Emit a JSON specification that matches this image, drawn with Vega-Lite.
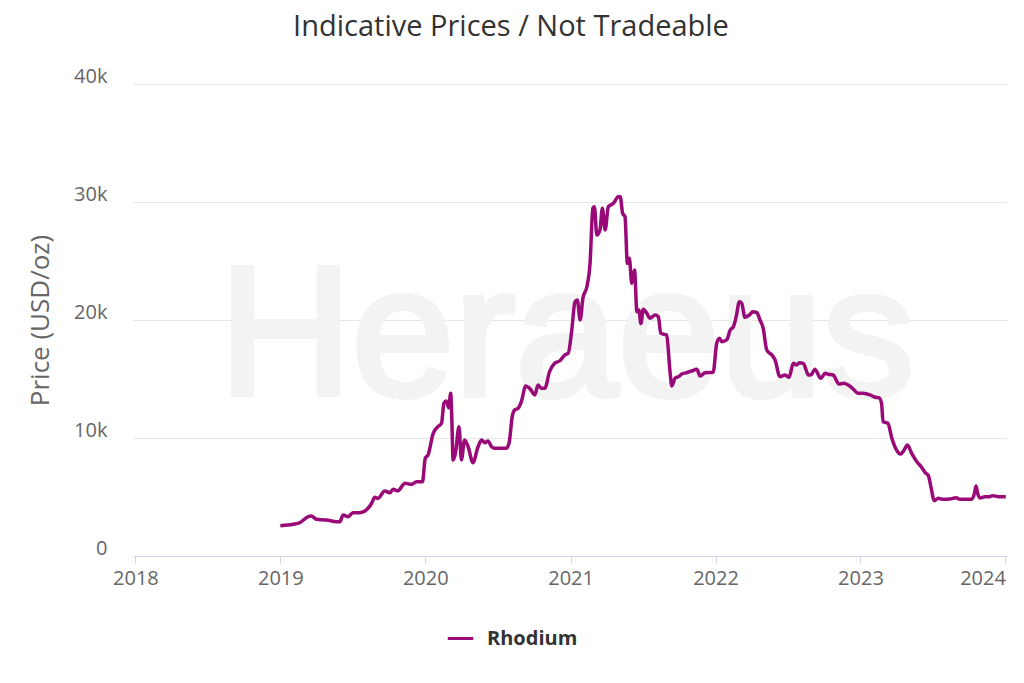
{
  "$schema": "https://vega.github.io/schema/vega-lite/v6.json",
  "width": 874,
  "height": 472,
  "autosize": {"type": "none"},
  "padding": {"left": 133, "top": 84, "right": 17, "bottom": 127},
  "background": "#ffffff",
  "title": {
    "text": "Indicative Prices / Not Tradeable",
    "font": "Open Sans",
    "fontSize": 29,
    "fontWeight": "normal",
    "color": "#333333",
    "anchor": "middle",
    "frame": "group",
    "baseline": "alphabetic",
    "offset": 31,
    "dx": -59,
    "dy": 30
  },
  "config": {
    "view": {"stroke": null},
    "font": "Open Sans"
  },
  "data": {
    "values": [
      {"date": "2019-01-01", "price": 2570},
      {"date": "2019-02-02", "price": 2690},
      {"date": "2019-02-19", "price": 2820},
      {"date": "2019-03-12", "price": 3330},
      {"date": "2019-03-20", "price": 3390},
      {"date": "2019-04-02", "price": 3110},
      {"date": "2019-04-27", "price": 3050},
      {"date": "2019-05-23", "price": 2910},
      {"date": "2019-05-31", "price": 2910},
      {"date": "2019-06-08", "price": 3470},
      {"date": "2019-06-21", "price": 3330},
      {"date": "2019-07-03", "price": 3670},
      {"date": "2019-07-20", "price": 3670},
      {"date": "2019-08-10", "price": 4040},
      {"date": "2019-08-19", "price": 4470},
      {"date": "2019-08-27", "price": 4970},
      {"date": "2019-09-04", "price": 4890},
      {"date": "2019-09-21", "price": 5510},
      {"date": "2019-10-04", "price": 5360},
      {"date": "2019-10-12", "price": 5650},
      {"date": "2019-10-24", "price": 5530},
      {"date": "2019-11-11", "price": 6160},
      {"date": "2019-11-27", "price": 6070},
      {"date": "2019-12-10", "price": 6300},
      {"date": "2019-12-25", "price": 6300},
      {"date": "2020-01-01", "price": 8280},
      {"date": "2020-01-08", "price": 8560},
      {"date": "2020-01-21", "price": 10400},
      {"date": "2020-02-02", "price": 10960},
      {"date": "2020-02-11", "price": 11250},
      {"date": "2020-02-17", "price": 12940},
      {"date": "2020-02-23", "price": 13140},
      {"date": "2020-02-29", "price": 12570},
      {"date": "2020-03-05", "price": 13790},
      {"date": "2020-03-08", "price": 11530},
      {"date": "2020-03-11", "price": 8140},
      {"date": "2020-03-17", "price": 8700},
      {"date": "2020-03-26", "price": 10960},
      {"date": "2020-04-01", "price": 8140},
      {"date": "2020-04-09", "price": 9830},
      {"date": "2020-04-18", "price": 9260},
      {"date": "2020-04-30", "price": 7910},
      {"date": "2020-05-13", "price": 9260},
      {"date": "2020-05-22", "price": 9830},
      {"date": "2020-05-30", "price": 9600},
      {"date": "2020-06-07", "price": 9750},
      {"date": "2020-06-16", "price": 9260},
      {"date": "2020-06-24", "price": 9130},
      {"date": "2020-07-23", "price": 9130},
      {"date": "2020-07-30", "price": 9550},
      {"date": "2020-08-07", "price": 11810},
      {"date": "2020-08-13", "price": 12370},
      {"date": "2020-08-22", "price": 12520},
      {"date": "2020-08-30", "price": 13080},
      {"date": "2020-09-10", "price": 14410},
      {"date": "2020-09-20", "price": 14210},
      {"date": "2020-10-03", "price": 13650},
      {"date": "2020-10-11", "price": 14490},
      {"date": "2020-10-19", "price": 14210},
      {"date": "2020-10-28", "price": 14210},
      {"date": "2020-11-09", "price": 15620},
      {"date": "2020-11-22", "price": 16330},
      {"date": "2020-12-05", "price": 16550},
      {"date": "2020-12-17", "price": 17030},
      {"date": "2020-12-26", "price": 17180},
      {"date": "2021-01-04", "price": 19150},
      {"date": "2021-01-12", "price": 21550},
      {"date": "2021-01-18", "price": 21700},
      {"date": "2021-01-25", "price": 20000},
      {"date": "2021-02-01", "price": 21840},
      {"date": "2021-02-11", "price": 22820},
      {"date": "2021-02-19", "price": 24800},
      {"date": "2021-02-26", "price": 29470},
      {"date": "2021-03-02", "price": 29600},
      {"date": "2021-03-08", "price": 27200},
      {"date": "2021-03-16", "price": 27630},
      {"date": "2021-03-22", "price": 29470},
      {"date": "2021-03-29", "price": 27630},
      {"date": "2021-04-06", "price": 29600},
      {"date": "2021-04-12", "price": 29750},
      {"date": "2021-04-19", "price": 29890},
      {"date": "2021-05-01", "price": 30450},
      {"date": "2021-05-06", "price": 30450},
      {"date": "2021-05-12", "price": 29040},
      {"date": "2021-05-18", "price": 28760},
      {"date": "2021-05-24", "price": 24800},
      {"date": "2021-05-29", "price": 25230},
      {"date": "2021-06-04", "price": 23110},
      {"date": "2021-06-11", "price": 24240},
      {"date": "2021-06-17", "price": 20700},
      {"date": "2021-06-22", "price": 20850},
      {"date": "2021-06-27", "price": 19700},
      {"date": "2021-07-03", "price": 20910},
      {"date": "2021-07-12", "price": 20570},
      {"date": "2021-07-20", "price": 20150},
      {"date": "2021-08-02", "price": 20420},
      {"date": "2021-08-10", "price": 20280},
      {"date": "2021-08-16", "price": 18870},
      {"date": "2021-08-31", "price": 18730},
      {"date": "2021-09-08", "price": 15760},
      {"date": "2021-09-13", "price": 14410},
      {"date": "2021-09-21", "price": 15060},
      {"date": "2021-09-30", "price": 15200},
      {"date": "2021-10-08", "price": 15420},
      {"date": "2021-10-20", "price": 15530},
      {"date": "2021-11-02", "price": 15680},
      {"date": "2021-11-15", "price": 15820},
      {"date": "2021-11-23", "price": 15250},
      {"date": "2021-12-06", "price": 15530},
      {"date": "2021-12-26", "price": 15570},
      {"date": "2022-01-04", "price": 18030},
      {"date": "2022-01-11", "price": 18450},
      {"date": "2022-01-17", "price": 18160},
      {"date": "2022-01-29", "price": 18310},
      {"date": "2022-02-07", "price": 19150},
      {"date": "2022-02-15", "price": 19430},
      {"date": "2022-02-22", "price": 20280},
      {"date": "2022-03-02", "price": 21550},
      {"date": "2022-03-08", "price": 21420},
      {"date": "2022-03-16", "price": 20230},
      {"date": "2022-03-27", "price": 20420},
      {"date": "2022-04-05", "price": 20700},
      {"date": "2022-04-15", "price": 20620},
      {"date": "2022-04-23", "price": 20000},
      {"date": "2022-05-01", "price": 19300},
      {"date": "2022-05-10", "price": 17460},
      {"date": "2022-05-23", "price": 17030},
      {"date": "2022-05-31", "price": 16610},
      {"date": "2022-06-12", "price": 15200},
      {"date": "2022-06-25", "price": 15340},
      {"date": "2022-07-05", "price": 15140},
      {"date": "2022-07-16", "price": 16330},
      {"date": "2022-07-24", "price": 16190},
      {"date": "2022-07-31", "price": 16380},
      {"date": "2022-08-10", "price": 16330},
      {"date": "2022-08-23", "price": 15340},
      {"date": "2022-08-31", "price": 15400},
      {"date": "2022-09-08", "price": 15820},
      {"date": "2022-09-23", "price": 15060},
      {"date": "2022-10-04", "price": 15480},
      {"date": "2022-10-12", "price": 15400},
      {"date": "2022-10-24", "price": 15340},
      {"date": "2022-11-08", "price": 14580},
      {"date": "2022-11-19", "price": 14630},
      {"date": "2022-12-01", "price": 14490},
      {"date": "2022-12-12", "price": 14210},
      {"date": "2022-12-26", "price": 13790},
      {"date": "2023-01-08", "price": 13790},
      {"date": "2023-01-25", "price": 13650},
      {"date": "2023-02-07", "price": 13450},
      {"date": "2023-02-17", "price": 13400},
      {"date": "2023-02-23", "price": 12940},
      {"date": "2023-02-27", "price": 11380},
      {"date": "2023-03-11", "price": 11250},
      {"date": "2023-03-21", "price": 9980},
      {"date": "2023-04-02", "price": 8980},
      {"date": "2023-04-12", "price": 8640},
      {"date": "2023-04-21", "price": 8980},
      {"date": "2023-04-29", "price": 9410},
      {"date": "2023-05-10", "price": 8700},
      {"date": "2023-05-23", "price": 7990},
      {"date": "2023-06-04", "price": 7520},
      {"date": "2023-06-13", "price": 7060},
      {"date": "2023-06-21", "price": 6810},
      {"date": "2023-06-27", "price": 5930},
      {"date": "2023-07-06", "price": 4690},
      {"date": "2023-07-16", "price": 4890},
      {"date": "2023-07-28", "price": 4800},
      {"date": "2023-08-14", "price": 4830},
      {"date": "2023-08-30", "price": 4940},
      {"date": "2023-09-08", "price": 4800},
      {"date": "2023-10-08", "price": 4800},
      {"date": "2023-10-15", "price": 5310},
      {"date": "2023-10-19", "price": 5930},
      {"date": "2023-10-23", "price": 5310},
      {"date": "2023-10-29", "price": 4920},
      {"date": "2023-11-10", "price": 5030},
      {"date": "2023-11-21", "price": 5030},
      {"date": "2023-12-01", "price": 5110},
      {"date": "2023-12-14", "price": 5030},
      {"date": "2024-01-02", "price": 5030}
    ]
  },
  "layer": [
    {
      "mark": {
        "type": "text",
        "text": "Heraeus",
        "font": "Liberation Sans",
        "fontSize": 184,
        "color": "#f3f3f3",
        "stroke": "#f3f3f3",
        "strokeWidth": 5,
        "align": "center",
        "baseline": "alphabetic"
      },
      "encoding": {
        "x": {"datum": {"year": 2020, "month": 12, "date": 22, "utc": true}, "type": "temporal"},
        "y": {"datum": 13640, "type": "quantitative"}
      }
    },
    {
      "mark": {"type": "line", "strokeWidth": 3.5, "interpolate": "monotone"},
      "encoding": {
        "x": {
          "field": "date",
          "type": "temporal",
          "scale": {
            "type": "utc",
            "domain": [
              {"year": 2017, "month": 12, "date": 26, "utc": true},
              {"year": 2024, "month": 1, "date": 5, "utc": true}
            ]
          },
          "axis": {
            "title": null,
            "values": [
              {"year": 2018, "month": 1, "date": 1, "utc": true},
              {"year": 2019, "month": 1, "date": 1, "utc": true},
              {"year": 2020, "month": 1, "date": 1, "utc": true},
              {"year": 2021, "month": 1, "date": 1, "utc": true},
              {"year": 2022, "month": 1, "date": 1, "utc": true},
              {"year": 2023, "month": 1, "date": 1, "utc": true},
              {"year": 2024, "month": 1, "date": 1, "utc": true}
            ],
            "format": "%Y",
            "grid": false,
            "domainColor": "#ccd6eb",
            "domainWidth": 1,
            "tickColor": "#ccd6eb",
            "tickSize": 7,
            "labelFont": "Open Sans",
            "labelFontSize": 20,
            "labelColor": "#666666",
            "labelPadding": 5,
            "labelAlign": {
              "condition": {"test": "datum.value > utc(2023, 6, 1)", "value": "right"},
              "value": "center"
            },
            "labelOverlap": false
          }
        },
        "y": {
          "field": "price",
          "type": "quantitative",
          "scale": {"domain": [0, 40000], "nice": false},
          "axis": {
            "title": "Price (USD/oz)",
            "titleFont": "Open Sans",
            "titleFontSize": 26,
            "titleFontWeight": "normal",
            "titleColor": "#666666",
            "titlePadding": 20,
            "values": [0, 10000, 20000, 30000, 40000],
            "labelExpr": "datum.value == 0 ? '0' : (datum.value / 1000) + 'k'",
            "domain": false,
            "ticks": false,
            "grid": true,
            "gridColor": "#e6e6e6",
            "gridWidth": 1,
            "labelFont": "Open Sans",
            "labelFontSize": 20,
            "labelColor": "#666666",
            "labelAlign": "right",
            "labelBaseline": "alphabetic",
            "labelOffset": -2,
            "labelPadding": 26
          }
        },
        "color": {
          "datum": "Rhodium",
          "type": "nominal",
          "scale": {"range": ["#990a78"]},
          "legend": {
            "title": null,
            "orient": "none",
            "legendX": 313,
            "legendY": 540,
            "padding": 0,
            "symbolType": "stroke",
            "symbolStrokeWidth": 3,
            "symbolSize": 650,
            "labelFont": "Open Sans",
            "labelFontSize": 20,
            "labelFontWeight": "bold",
            "labelColor": "#333333",
            "labelOffset": 12
          }
        }
      }
    }
  ]
}
